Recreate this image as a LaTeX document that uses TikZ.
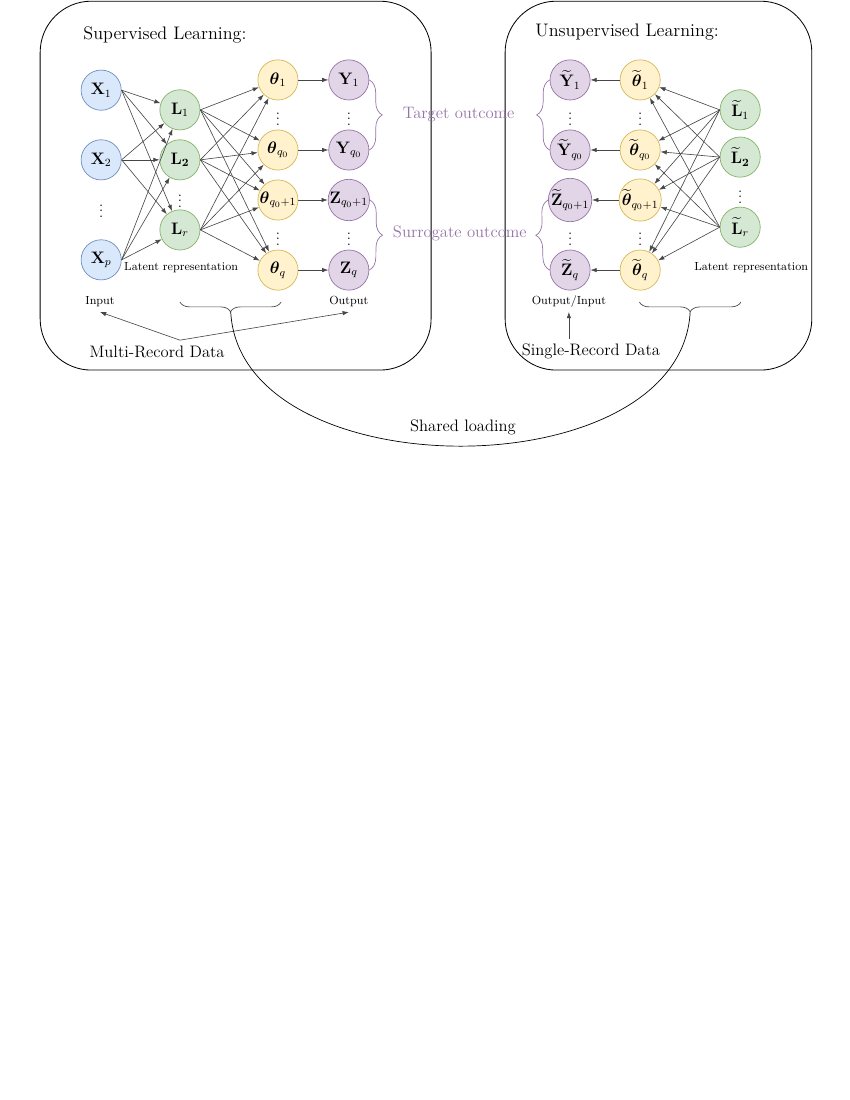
\documentclass[tikz,border=0pt]{standalone}
\usepackage{amsmath}
\usepackage{tikz}
\usepackage{xcolor}
\usetikzlibrary{arrows.meta,decorations.pathreplacing}

\definecolor{inputfill}{HTML}{DAE8FC}
\definecolor{inputdraw}{HTML}{6C8EBF}
\definecolor{latentfill}{HTML}{D5E8D4}
\definecolor{latentdraw}{HTML}{82B366}
\definecolor{paramfill}{HTML}{FFF2CC}
\definecolor{paramdraw}{HTML}{D6B656}
\definecolor{outfill}{HTML}{E1D5E7}
\definecolor{outdraw}{HTML}{9673A6}

\begin{document}
\begin{tikzpicture}[
    panel/.style={
        draw=black,
        line width=0.6pt,
        rounded corners=1.3cm
    },
    unit/.style={
        circle,
        minimum size=1.02cm,
        inner sep=0pt,
        line width=0.5pt,
        font=\fontsize{11.5}{13}\selectfont
    },
    xunit/.style={unit, draw=inputdraw, fill=inputfill},
    lunit/.style={unit, draw=latentdraw, fill=latentfill},
    tunit/.style={unit, draw=paramdraw, fill=paramfill},
    yunit/.style={unit, draw=outdraw, fill=outfill},
    dots/.style={inner sep=0pt, font=\fontsize{11}{13}\selectfont},
    note/.style={font=\fontsize{8.5}{10}\selectfont},
    heading/.style={font=\large},
    paneltitle/.style={font=\fontsize{13.1}{15}\selectfont},
    outcome/.style={font=\large, text=outdraw},
    link/.style={-{Latex[length=4.5pt,width=3.2pt]}, draw=black!72, line width=0.45pt},
    curly/.style={decorate, decoration={brace, amplitude=0.25cm}, draw=black!72, line width=0.5pt},
    outbrace/.style={decorate, decoration={brace, amplitude=0.33cm}, draw=outdraw, line width=0.5pt}
]
    \useasboundingbox (0,0) rectangle (21.59,-27.94);

    % --- PANELS ---
    \draw [panel] (1.02,-0.03) rectangle (10.95,-9.40);
    \draw [panel] (12.83,-0.03) rectangle (20.62,-9.40);

    \node [paneltitle] (suptitle) at (4.19,-0.89) {Supervised Learning:};
    \node [paneltitle] (unsuptitle) at (15.93,-0.81) {Unsupervised Learning:};

    % --- SUPERVISED NETWORK ---
    % Input
    \node [xunit] (x1) at (2.57,-2.29) {$\mathbf{X}_1$};
    \node [xunit] (x2) at (2.57,-4.06) {$\mathbf{X}_2$};
    \node [dots] (xdots) at (2.57,-5.26) {$\vdots$};
    \node [xunit] (xp) at (2.57,-6.60) {$\mathbf{X}_p$};

    % Latent layer
    \node [lunit] (l1) at (4.57,-2.79) {$\mathbf{L}_1$};
    \node [lunit] (l2) at (4.57,-4.06) {$\mathbf{L_2}$};
    \node [dots] (ldots) at (4.57,-5.00) {$\vdots$};
    \node [lunit] (lr) at (4.57,-5.84) {$\mathbf{L}_r$};

    % Parameters
    \node [tunit] (th1) at (7.06,-2.03) {$\boldsymbol{\theta}_1$};
    \node [dots] (thdotsa) at (7.06,-2.92) {$\vdots$};
    \node [tunit] (thq0) at (7.06,-3.81) {$\boldsymbol{\theta}_{q_0}$};
    \node [tunit] (thq1) at (7.06,-5.08) {$\boldsymbol{\theta}_{q_0+1}$};
    \node [dots] (thdotsb) at (7.06,-5.97) {$\vdots$};
    \node [tunit] (thq) at (7.06,-6.86) {$\boldsymbol{\theta}_q$};

    % Outcomes
    \node [yunit] (y1) at (8.86,-2.03) {$\mathbf{Y}_1$};
    \node [dots] (ydots) at (8.86,-2.92) {$\vdots$};
    \node [yunit] (yq0) at (8.86,-3.81) {$\mathbf{Y}_{q_0}$};
    \node [yunit] (zq1) at (8.86,-5.08) {$\mathbf{Z}_{q_0+1}$};
    \node [dots] (zdots) at (8.86,-5.97) {$\vdots$};
    \node [yunit] (zq) at (8.86,-6.86) {$\mathbf{Z}_q$};

    \node [note] (latentl) at (4.60,-6.81) {Latent representation};
    \node [note] (input) at (2.54,-7.67) {Input};
    \node [note] (output) at (8.86,-7.67) {Output};
    \node [heading] (mrd) at (3.99,-8.94) {Multi-Record Data};
    \coordinate (mrdtip) at (4.57,-8.64);

    % --- UNSUPERVISED NETWORK ---
    % Outcomes
    \node [yunit] (yt1) at (14.48,-2.03) {$\widetilde{\mathbf{Y}}_1$};
    \node [dots] (ytdots) at (14.48,-2.92) {$\vdots$};
    \node [yunit] (ytq0) at (14.48,-3.81) {$\widetilde{\mathbf{Y}}_{q_0}$};
    \node [yunit] (ztq1) at (14.48,-5.08) {$\widetilde{\mathbf{Z}}_{q_0+1}$};
    \node [dots] (ztdots) at (14.48,-5.97) {$\vdots$};
    \node [yunit] (ztq) at (14.48,-6.86) {$\widetilde{\mathbf{Z}}_q$};

    % Parameters
    \node [tunit] (tht1) at (16.26,-2.03) {$\widetilde{\boldsymbol{\theta}}_1$};
    \node [dots] (thtdotsa) at (16.26,-2.92) {$\vdots$};
    \node [tunit] (thtq0) at (16.26,-3.81) {$\widetilde{\boldsymbol{\theta}}_{q_0}$};
    \node [tunit] (thtq1) at (16.26,-5.08) {$\widetilde{\boldsymbol{\theta}}_{q_0+1}$};
    \node [dots] (thtdotsb) at (16.26,-5.97) {$\vdots$};
    \node [tunit] (thtq) at (16.26,-6.86) {$\widetilde{\boldsymbol{\theta}}_q$};

    % Latent layer
    \node [lunit] (lt1) at (18.80,-2.79) {$\widetilde{\mathbf{L}}_1$};
    \node [lunit] (lt2) at (18.80,-3.99) {$\widetilde{\mathbf{L}}_{\mathbf{2}}$};
    \node [dots] (ltdots) at (18.80,-4.90) {$\vdots$};
    \node [lunit] (ltr) at (18.80,-5.77) {$\widetilde{\mathbf{L}}_r$};

    \node [note] (latentr) at (19.08,-6.81) {Latent representation};
    \node [note] (oi) at (14.45,-7.65) {Output/Input};
    \node [heading] (srd) at (15.01,-8.92) {Single-Record Data};

    % --- ARROWS ---
    % Input -> Latent
    \draw [link] (x1.east) -- (l1);
    \draw [link] (x1.east) -- (l2);
    \draw [link] (x1.east) -- (lr);
    \draw [link] (x2.east) -- (l1);
    \draw [link] (x2.east) -- (l2);
    \draw [link] (x2.east) -- (lr);
    \draw [link] (xp.east) -- (l1);
    \draw [link] (xp.east) -- (l2);
    \draw [link] (xp.east) -- (lr);

    % Latent -> Parameters
    \draw [link] (l1.east) -- (th1);
    \draw [link] (l1.east) -- (thq0);
    \draw [link] (l1.east) -- (thq1);
    \draw [link] (l1.east) -- (thq);
    \draw [link] (l2.east) -- (th1);
    \draw [link] (l2.east) -- (thq0);
    \draw [link] (l2.east) -- (thq1);
    \draw [link] (l2.east) -- (thq);
    \draw [link] (lr.east) -- (th1);
    \draw [link] (lr.east) -- (thq0);
    \draw [link] (lr.east) -- (thq1);
    \draw [link] (lr.east) -- (thq);

    % Parameters -> Outcomes
    \draw [link] (th1) -- (y1);
    \draw [link] (thq0) -- (yq0);
    \draw [link] (thq1) -- (zq1);
    \draw [link] (thq) -- (zq);

    % Latent~ -> Parameters~
    \draw [link] (lt1.west) -- (tht1);
    \draw [link] (lt1.west) -- (thtq0);
    \draw [link] (lt1.west) -- (thtq1);
    \draw [link] (lt1.west) -- (thtq);
    \draw [link] (lt2.west) -- (tht1);
    \draw [link] (lt2.west) -- (thtq0);
    \draw [link] (lt2.west) -- (thtq1);
    \draw [link] (lt2.west) -- (thtq);
    \draw [link] (ltr.west) -- (tht1);
    \draw [link] (ltr.west) -- (thtq0);
    \draw [link] (ltr.west) -- (thtq1);
    \draw [link] (ltr.west) -- (thtq);

    % Parameters~ -> Outcomes~
    \draw [link] (tht1) -- (yt1);
    \draw [link] (thtq0) -- (ytq0);
    \draw [link] (thtq1) -- (ztq1);
    \draw [link] (thtq) -- (ztq);

    % Data labels
    \draw [link] (mrdtip) -- (input.south);
    \draw [link] (mrdtip) -- (output.south);
    \draw [link] (srd.north -| oi.south) -- (oi.south);

    % --- OUTCOME BRACES ---
    \draw [outbrace] (y1.east) -- (yq0.east);
    \draw [outbrace] (ytq0.west) -- (yt1.west);
    \draw [outbrace] (zq1.east) -- (zq.east);
    \draw [outbrace] (ztq.west) -- (ztq1.west);
    \node [outcome] (target) at (11.65,-2.92) {Target outcome};
    \node [outcome] (surrogate) at (11.68,-5.92) {Surrogate outcome};

    % --- SHARED LOADING ---
    \draw [curly] (7.14,-7.67) -- (4.57,-7.67);
    \draw [curly] (18.82,-7.67) -- (16.24,-7.67);
    \coordinate (shareleft) at (5.86,-7.92);
    \coordinate (shareright) at (17.53,-7.92);
    \draw [line width=0.5pt] (shareleft) .. controls (6.10,-12.47) and (17.30,-12.47) .. (shareright);
    \node [heading] (shared) at (11.76,-10.85) {Shared loading};

\end{tikzpicture}
\end{document}
